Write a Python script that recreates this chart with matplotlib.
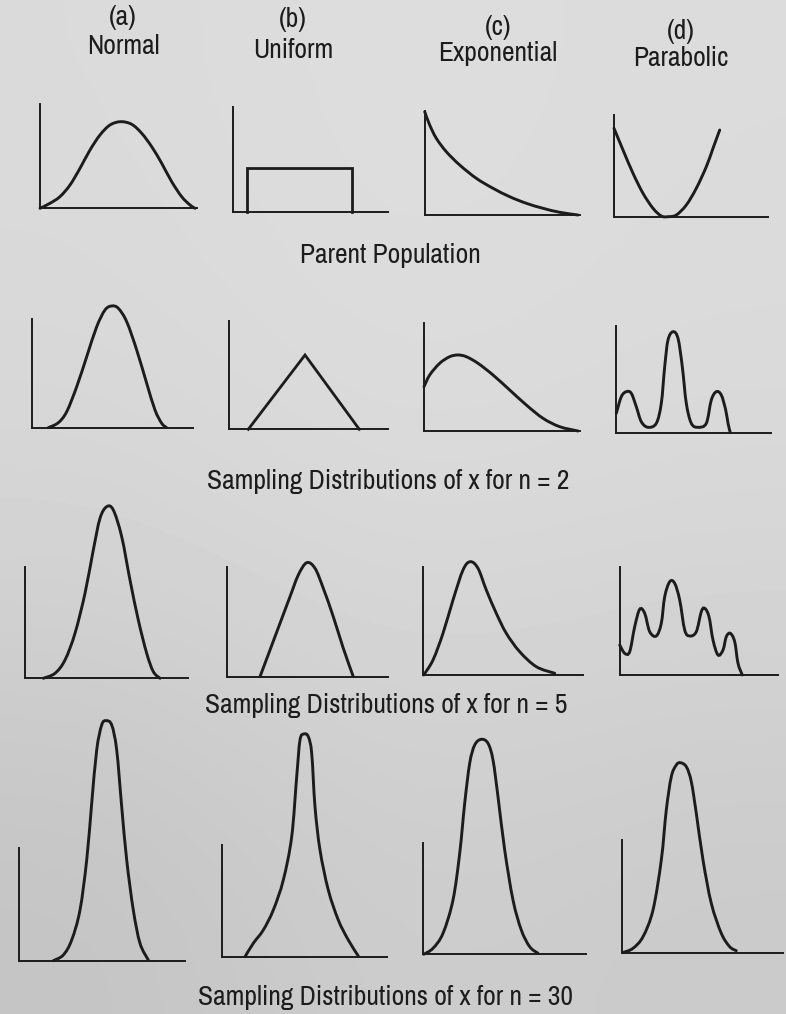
import numpy as np
import matplotlib
matplotlib.use("Agg")
from matplotlib import pyplot as plt
from matplotlib import font_manager
from matplotlib.font_manager import FontProperties
from matplotlib.path import Path
from matplotlib.patches import PathPatch

# curve outlines, x measured from the vertical axis and y above the baseline
normal_parent_x = [0, 10, 20, 30, 40, 50, 60, 70, 80.7, 91.7, 101.7, 111.7, 121.7, 131.7, 141.7, 150, 155]
normal_parent_y = [0, 5, 11.7, 23.3, 40, 58.3, 73.3, 83.3, 86.6, 84, 75, 61.6, 45, 26.6, 11.6, 3.3, 0]
uniform_parent_x = [13.4, 13.4, 119, 119]
uniform_parent_y = [0, 44, 44, 0]
expo_parent_x = [0, 5, 11.6, 21.6, 35, 51.6, 68.3, 85, 101.6, 118.3, 135, 153.3]
expo_parent_y = [103.3, 90, 76.7, 63.3, 50, 36.7, 26.7, 18.3, 11.7, 6.7, 2.7, 0]
parab_parent_x = [0, 9, 19, 29, 39, 47.3, 54, 62.3, 72.3, 82.3, 92.3, 99, 105.7]
parab_parent_y = [88.4, 66.7, 43.4, 23.4, 8.4, 0.7, 0, 1.7, 11.7, 28.4, 50, 68.4, 86.7]

normal_n2_x = [16.6, 26.6, 35, 45, 55, 65, 73.3, 80, 86.6, 95, 105, 115, 123.3, 130, 135]
normal_n2_y = [0, 5, 16, 41, 71, 101, 117.7, 121.7, 119.4, 106, 77.7, 44.4, 17.7, 4.4, 0]
uniform_n2_x = [19.3, 76, 130.3]
uniform_n2_y = [0, 74.3, 0]
expo_n2_x = [0, 5.7, 15.7, 25.7, 34, 42.3, 54, 69, 85.7, 102.3, 119, 135.7, 154]
expo_n2_y = [44.3, 56, 67.7, 74.3, 76, 74.3, 67.7, 56, 41, 26, 12.7, 4.3, 0]
parab_n2_x = [0.6, 5.6, 10.6, 15.6, 20.6, 25.6, 32.3, 40.6, 45.6, 49, 52.3, 57.3, 62.3,
              66.6, 70.6, 75.6, 82.3, 90.6, 95.6, 100.6, 105.6, 110, 112.3, 114.6]
parab_n2_y = [19.4, 36, 41, 39.4, 26, 11, 5.4, 9.4, 29.4, 66, 92.7, 101, 94.4,
              66, 29.4, 9.4, 5.4, 9.4, 32.7, 41, 37.7, 22.7, 9.4, 0]

normal_n5_x = [18.3, 30, 40, 50, 60, 68.3, 75, 81.7, 88.3, 96.7, 105, 113.3, 121.7, 128.3, 135]
normal_n5_y = [0, 5, 18.3, 45, 85, 128.3, 160, 171.6, 168.3, 141.6, 98.3, 58.3, 25, 6.7, 0]
uniform_n5_x = [33.3, 43.3, 53.3, 63.3, 71.6, 80, 88.3, 96.6, 106.6, 116.6, 126.6]
uniform_n5_y = [0, 26.7, 53.4, 80, 101.7, 114, 108.4, 88.4, 60, 28.4, 0]
expo_n5_x = [0.7, 10, 20, 30, 40, 47.3, 55, 63.3, 73.3, 83.3, 96.7, 113.3, 131.7]
expo_n5_y = [0, 15, 41.7, 75, 105, 113.3, 106.7, 85, 61.7, 41.7, 23.3, 8.3, 1.7]
parab_n5_x = [0, 5, 10, 15, 20, 25, 30, 36.6, 41.6, 45, 50, 55, 60, 65, 70, 76.6,
              81.6, 85, 89.3, 93.3, 98.3, 103.3, 106.6, 110.6, 115, 118.3, 122.6]
parab_n5_y = [30, 21.7, 23.3, 48.3, 65.7, 61.7, 43.3, 39, 51.7, 78.3, 93.3, 91.7, 75, 45, 39, 43.3,
              63.3, 66.7, 58.3, 35, 20, 25, 38.3, 41.7, 33.3, 11.7, 0]

normal_n30_x = [34.3, 44.3, 52.7, 61, 67.7, 72.7, 77.7, 82.7, 87, 92.7, 97.7, 102.7, 107.7, 114.3, 121, 129.3]
normal_n30_y = [0, 5.7, 20.7, 50.7, 100.7, 157.4, 210.7, 235.7, 240, 235.7, 210.7, 154, 100.7, 50.7, 17.4, 0.7]
uniform_n30_x = [22.7, 31, 41, 51, 61, 69.4, 74.4, 77.7, 81.7, 86, 89.4, 92.7, 97.7, 106, 116, 126, 136]
uniform_n30_y = [0, 13.4, 26.7, 46.7, 76.7, 120, 180, 216.7, 222.7, 220, 203.4, 150, 106.7, 66.7, 36.7, 16.7, 0.7]
expo_n30_x = [0.7, 10, 20, 30, 36.7, 41.7, 46.7, 51.7, 58.3, 65, 70, 75, 81.7, 90, 98.3, 106.7, 115]
expo_n30_y = [0, 6, 21, 54.3, 101, 151, 191, 209.3, 215, 211, 194.3, 157.6, 104.3, 54.3, 24.3, 7.6, 1]
parab_n30_x = [1.4, 10.7, 20.7, 30.7, 39, 44, 49, 54, 58, 64, 69, 74, 80.7, 89, 99, 107.4, 114]
parab_n30_y = [0.4, 4.4, 16, 42.7, 92.7, 142.7, 176, 187.7, 190, 186, 171, 139.4, 92.7, 49.4, 19.4, 6, 2]

col_letters = ["(a)", "(b)", "(c)", "(d)"]
col_names = ["Normal", "Uniform", "Exponential", "Parabolic"]
row_titles = ["Parent Population",
              "Sampling Distributions of x for n = 2",
              "Sampling Distributions of x for n = 5",
              "Sampling Distributions of x for n = 30"]

W, H = 786, 1014
INK = "#1c1c1c"

# panel frames in pixels: axis x, baseline y, axis length, axis height
frames = {
    (0, 0): (40, 208.3, 157, 104), (0, 1): (233.3, 211.7, 155, 104.7),
    (0, 2): (424.7, 215, 155, 104.3), (0, 3): (614, 216.7, 154, 101.7),
    (1, 0): (31.7, 427.7, 161, 108.4), (1, 1): (229, 429.3, 159.3, 108.3),
    (1, 2): (424, 431, 155.7, 107.7), (1, 3): (615.7, 432.7, 155.6, 106.7),
    (2, 0): (25, 678.3, 163.3, 111.6), (2, 1): (226.7, 676.7, 161.3, 110),
    (2, 2): (423, 675, 160, 108.3), (2, 3): (619.7, 675, 158.3, 108.3),
    (3, 0): (19, 960.7, 166, 113), (3, 1): (222.3, 956.7, 164.4, 111.7),
    (3, 2): (423, 954.3, 162.7, 111.6), (3, 3): (622.3, 952.7, 160.7, 112.7),
}

curves = {
    (0, 0): (normal_parent_x, normal_parent_y), (0, 1): (uniform_parent_x, uniform_parent_y),
    (0, 2): (expo_parent_x, expo_parent_y), (0, 3): (parab_parent_x, parab_parent_y),
    (1, 0): (normal_n2_x, normal_n2_y), (1, 1): (uniform_n2_x, uniform_n2_y),
    (1, 2): (expo_n2_x, expo_n2_y), (1, 3): (parab_n2_x, parab_n2_y),
    (2, 0): (normal_n5_x, normal_n5_y), (2, 1): (uniform_n5_x, uniform_n5_y),
    (2, 2): (expo_n5_x, expo_n5_y), (2, 3): (parab_n5_x, parab_n5_y),
    (3, 0): (normal_n30_x, normal_n30_y), (3, 1): (uniform_n30_x, uniform_n30_y),
    (3, 2): (expo_n30_x, expo_n30_y), (3, 3): (parab_n30_x, parab_n30_y),
}
straight = {(0, 1), (1, 1)}  # rectangle and triangle are drawn with straight segments

col_letter_pos = [(123, 17), (293, 19), (498, 27), (681, 32)]
col_name_pos = [(123, 47), (293, 50), (498, 53), (681, 58)]
row_title_pos = [(390, 255), (388, 481), (386, 705), (386, 997)]
TITLE_WIDTH = 363  # pixel width of the "n = 2" caption


def pick_font():
    """Prefer a narrow sans face; fall back to plain Liberation Sans."""
    fonts = font_manager.fontManager.ttflist
    for f in fonts:
        if f.name == "Liberation Sans Narrow" and f.weight in (400, "normal") and f.style == "normal":
            return FontProperties(fname=f.fname)
    for want in ("condensed", "semi-condensed"):
        for fam in ("Noto Sans", "Roboto", "Open Sans", "Noto Sans Condensed"):
            for f in fonts:
                if (f.name == fam and f.stretch == want and f.style == "normal"
                        and f.weight in (400, "normal", "regular")):
                    return FontProperties(fname=f.fname)
    for f in fonts:
        if ("Condensed" in f.name or "Narrow" in f.name) and f.style == "normal" \
                and f.weight in (400, "normal", "regular") and "Semi" not in f.name \
                and "Extra" not in f.name:
            return FontProperties(fname=f.fname)
    return FontProperties(family="Liberation Sans")


def smooth_path(xs, ys):
    """Catmull-Rom through the points, emitted as cubic Bezier segments."""
    pts = np.column_stack([xs, ys]).astype(float)
    verts, codes = [pts[0]], [Path.MOVETO]
    n = len(pts)
    for i in range(n - 1):
        p0, p1 = pts[max(i - 1, 0)], pts[i]
        p2, p3 = pts[i + 1], pts[min(i + 2, n - 1)]
        verts += [p1 + (p2 - p0) / 6, p2 - (p3 - p1) / 6, p2]
        codes += [Path.CURVE4] * 3
    return Path(verts, codes)


fig = plt.figure(figsize=(W / 100, H / 100), dpi=100)

# paper background, slightly darker towards the bottom
bg = fig.add_axes([0, 0, 1, 1])
paper = np.array([[0.855, 0.870, 0.860],
                  [0.840, 0.860, 0.850],
                  [0.765, 0.805, 0.790]])
bg.imshow(paper, cmap="gray", vmin=0, vmax=1, interpolation="bicubic",
          extent=(0, W, H, 0), aspect="auto")
bg.set_xlim(0, W); bg.set_ylim(H, 0)
bg.axis("off")

for (r, c), (sx, by, w, h) in frames.items():
    ax = fig.add_axes([sx / W, 1 - by / H, w / W, h / H])
    ax.patch.set_visible(False)
    ax.set_xlim(0, w); ax.set_ylim(0, h)
    for side in ("top", "right"):
        ax.spines[side].set_visible(False)
    for side in ("left", "bottom"):
        ax.spines[side].set_linewidth(1.4)
        ax.spines[side].set_color(INK)
    ax.set_xticks([]); ax.set_yticks([])
    xs, ys = curves[(r, c)]
    if (r, c) in straight:
        ax.plot(xs, ys, color=INK, lw=2.0, clip_on=False, solid_joinstyle="miter")
    else:
        ax.add_patch(PathPatch(smooth_path(xs, ys), fill=False, ec=INK, lw=2.1,
                               clip_on=False, capstyle="round"))

# size the captions so the n = 2 line spans its measured width
fp = pick_font()
fp.set_size(20)
probe = bg.text(0, 0, row_titles[1], fontproperties=fp)
ext = probe.get_window_extent(renderer=fig.canvas.get_renderer())
probe.remove()
fp.set_size(min(20 * TITLE_WIDTH / ext.width, 20.5))

for txt, (x, y) in zip(col_letters, col_letter_pos):
    bg.text(x, y, txt, ha="center", va="center", fontproperties=fp, color=INK)
for txt, (x, y) in zip(col_names, col_name_pos):
    bg.text(x, y, txt, ha="center", va="center", fontproperties=fp, color=INK)
for txt, (x, y) in zip(row_titles, row_title_pos):
    bg.text(x, y, txt, ha="center", va="center", fontproperties=fp, color=INK)

fig.savefig("out.png", dpi=100)
